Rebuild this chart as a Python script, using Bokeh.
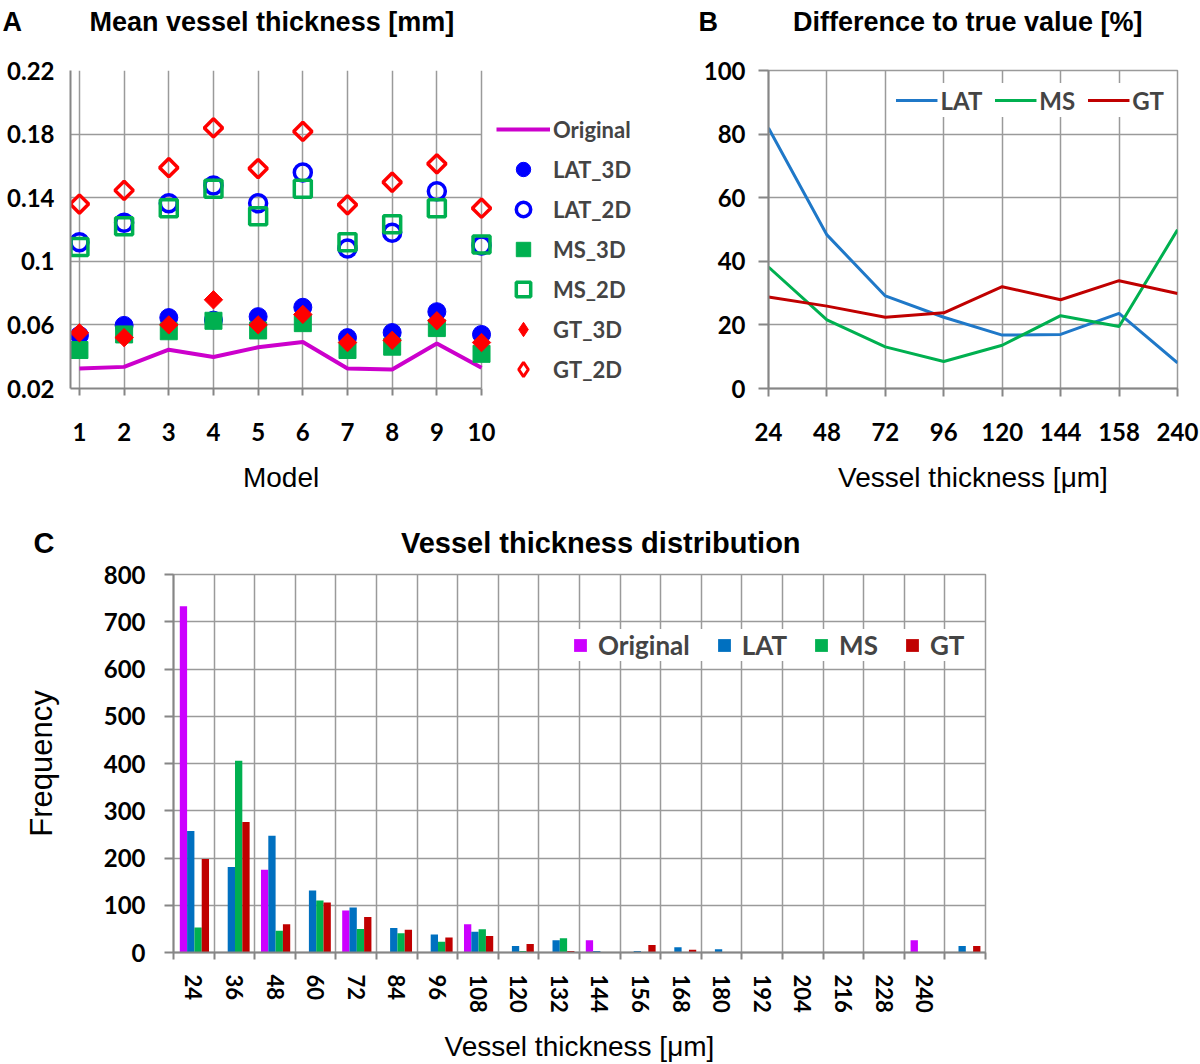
from bokeh.plotting import figure
from bokeh.models import Range1d, FixedTicker, Legend, LegendItem, ColumnDataSource, Title
from bokeh.layouts import column, row
from bokeh.transform import dodge
from bokeh.embed import file_html
from bokeh.resources import INLINE
import math

# ---------------- Panel A data ----------------
models = [1, 2, 3, 4, 5, 6, 7, 8, 9, 10]
original = [0.0326, 0.0336, 0.0444, 0.0398, 0.0459, 0.0493, 0.0326, 0.0320, 0.0483, 0.0330]
lat_3d = [0.0534, 0.0597, 0.0646, 0.0630, 0.0652, 0.0711, 0.0520, 0.0552, 0.0683, 0.0540]
lat_2d = [0.1120, 0.1243, 0.1365, 0.1477, 0.1365, 0.1558, 0.1080, 0.1180, 0.1440, 0.1100]
ms_3d = [0.0442, 0.0540, 0.0560, 0.0626, 0.0565, 0.0611, 0.0442, 0.0463, 0.0580, 0.0418]
ms_2d = [0.1090, 0.1220, 0.1334, 0.1457, 0.1283, 0.1457, 0.1120, 0.1233, 0.1334, 0.1106]
gt_3d = [0.0550, 0.0520, 0.0600, 0.0758, 0.0600, 0.0666, 0.0489, 0.0503, 0.0626, 0.0489]
gt_2d = [0.1360, 0.1446, 0.1589, 0.1839, 0.1583, 0.1817, 0.1355, 0.1497, 0.1613, 0.1334]
a_yticks = [0.02, 0.06, 0.10, 0.14, 0.18, 0.22]
a_ytick_labels = ["0.02", "0.06", "0.1", "0.14", "0.18", "0.22"]

# ---------------- Panel B data ----------------
b_cats = ["24", "48", "72", "96", "120", "144", "158", "240"]
b_lat = [81.9, 48.3, 29.1, 22.4, 16.8, 17.0, 23.6, 8.1]
b_ms = [38.2, 21.6, 13.1, 8.5, 13.6, 22.9, 19.5, 49.9]
b_gt = [28.8, 25.9, 22.4, 23.8, 32.0, 27.9, 33.9, 29.9]
b_yticks = [0, 20, 40, 60, 80, 100]

# ---------------- Panel C data ----------------
c_cats = ["24", "36", "48", "60", "72", "84", "96", "108", "120", "132", "144",
          "156", "168", "180", "192", "204", "216", "228", "240", ""]
c_original = [733, 0, 175, 0, 89, 0, 0, 60, 0, 0, 26, 0, 0, 0, 0, 0, 0, 0, 26, 0]
c_lat = [257, 181, 247, 131, 95, 52, 38, 44, 14, 26, 3, 3, 11, 7, 0, 0, 0, 0, 0, 14]
c_ms = [53, 406, 46, 110, 50, 41, 23, 49, 3, 30, 0, 0, 0, 0, 0, 0, 0, 0, 0, 0]
c_gt = [198, 276, 60, 106, 75, 48, 32, 35, 18, 3, 0, 16, 6, 0, 0, 0, 0, 0, 0, 14]
c_yticks = [0, 100, 200, 300, 400, 500, 600, 700, 800]

TICK_FONT = "Lato"
TITLE_FONT = "Liberation Sans"
GRID = "#9a9a9a"
AXIS = "#868686"
NB = "\u00a0"


def style_axes(p, tick_size="24px"):
    for ax in p.axis:
        ax.axis_line_color = AXIS
        ax.axis_line_width = 2
        ax.major_tick_line_color = AXIS
        ax.major_tick_line_width = 2
        ax.minor_tick_line_color = AXIS
        ax.minor_tick_line_width = 2
        ax.major_label_text_font = TICK_FONT
        ax.major_label_text_font_style = "bold"
        ax.major_label_text_font_size = tick_size
        ax.major_label_text_color = "black"
        ax.axis_label_text_font = TITLE_FONT
        ax.axis_label_text_font_style = "normal"
        ax.axis_label_text_font_size = "28px"
        ax.axis_label_text_color = "black"
    for g in p.grid:
        g.grid_line_color = GRID
        g.grid_line_width = 1.5


def panel_title(letter, text, offset, size, standoff, gap, extra_line=False):
    t = letter + NB * gap + text
    if extra_line:
        t += "\n" + NB
    return Title(text=t, align="left", offset=offset,
                 text_font=TITLE_FONT, text_font_style="bold", text_font_size=size,
                 text_color="black", standoff=standoff)


TOP = 67      # frame top of panels A and B
BOTTOM = 112  # bottom border of panels A and B

# ================= Panel A =================
# the frame is widened to the right so that the legend sits inside it;
# axis line and horizontal grid lines are bounded to the data region
pA = figure(width=680, height=500, x_range=Range1d(0.8, 14.23), y_range=Range1d(0.02, 0.22),
            output_backend="svg", toolbar_location=None,
            title=panel_title("A", "Mean vessel thickness [mm]", -68, "27px", 8, 9, True),
            min_border_left=70, min_border_right=10, min_border_top=TOP, min_border_bottom=BOTTOM)
pA.outline_line_color = None
srcA = ColumnDataSource(dict(x=models, original=original, lat_3d=lat_3d, lat_2d=lat_2d,
                             ms_3d=ms_3d, ms_2d=ms_2d, gt_3d=gt_3d, gt_2d=gt_2d))
rA0 = pA.line("x", "original", source=srcA, line_color="#cc00cc", line_width=4)
rA1 = pA.scatter("x", "lat_3d", source=srcA, marker="circle", size=18,
                 fill_color="#0000ff", line_color="#0000ff", line_width=1)
rA2 = pA.scatter("x", "lat_2d", source=srcA, marker="circle", size=17,
                 fill_color=None, line_color="#0000ff", line_width=3.5)
rA3 = pA.scatter("x", "ms_3d", source=srcA, marker="square", size=17,
                 fill_color="#00b050", line_color="#00b050", line_width=1)
rA4 = pA.scatter("x", "ms_2d", source=srcA, marker="square", size=17,
                 fill_color=None, line_color="#00b050", line_width=3.5)
rA5 = pA.scatter("x", "gt_3d", source=srcA, marker="square", size=13, angle=math.pi / 4,
                 fill_color="#ff0000", line_color="#ff0000", line_width=1)
rA6 = pA.scatter("x", "gt_2d", source=srcA, marker="square", size=13, angle=math.pi / 4,
                 fill_color=None, line_color="#ff0000", line_width=3.5)
# legend stand-ins drawn as diamonds (legend glyphs ignore rotation); nothing is plotted
proxy = ColumnDataSource(dict(x=models[:1], y=[math.nan]))
rA5_leg = pA.scatter("x", "y", source=proxy, marker="diamond", size=13,
                     fill_color="#ff0000", line_color="#ff0000", line_width=1)
rA6_leg = pA.scatter("x", "y", source=proxy, marker="diamond", size=13,
                     fill_color=None, line_color="#ff0000", line_width=3)
pA.xaxis.ticker = FixedTicker(ticks=models)
pA.xaxis.bounds = (0.8, 10)
pA.yaxis.ticker = FixedTicker(ticks=a_yticks)
pA.yaxis.major_label_overrides = {t: s for t, s in zip(a_yticks, a_ytick_labels)}
# trailing no-break spaces keep "Model" centred under the data region, not the wider frame
pA.xaxis.axis_label = "Model" + NB * 23
style_axes(pA)
pA.yaxis.major_tick_out = 0
pA.yaxis.major_tick_in = 0
pA.yaxis.major_label_standoff = 16
pA.xaxis.major_tick_out = 7
pA.xaxis.major_tick_in = 0
pA.xaxis.major_label_standoff = 27
pA.xaxis.axis_label_standoff = 18
pA.xgrid.ticker = FixedTicker(ticks=models)
pA.ygrid.ticker = FixedTicker(ticks=a_yticks)
pA.ygrid.cross_bounds = (0.8, 10)

itemsA = [
    LegendItem(label="Original", renderers=[rA0]),
    LegendItem(label="LAT_3D", renderers=[rA1]),
    LegendItem(label="LAT_2D", renderers=[rA2]),
    LegendItem(label="MS_3D", renderers=[rA3]),
    LegendItem(label="MS_2D", renderers=[rA4]),
    LegendItem(label="GT_3D", renderers=[rA5_leg]),
    LegendItem(label="GT_2D", renderers=[rA6_leg]),
]
legA = Legend(items=itemsA, location=(426, 1))
legA.padding = 0
legA.margin = 0
legA.spacing = 4
legA.glyph_width = 54
legA.glyph_height = 36
legA.label_height = 36
legA.label_standoff = 3
legA.border_line_color = None
legA.background_fill_alpha = 0
legA.label_text_font = TICK_FONT
legA.label_text_font_style = "bold"
legA.label_text_font_size = "22px"
pA.add_layout(legA, "center")

# ================= Panel B =================
b_idx = list(range(len(b_cats)))
pB = figure(width=520, height=500, x_range=Range1d(0, len(b_cats) - 1), y_range=Range1d(0, 100),
            output_backend="svg", toolbar_location=None,
            title=panel_title("B", "Difference to true value [%]", -70, "27px", 8, 10, True),
            min_border_left=88, min_border_right=23, min_border_top=TOP, min_border_bottom=BOTTOM)
pB.outline_line_color = GRID
pB.outline_line_width = 1.5
srcB = ColumnDataSource(dict(x=b_idx, lat=b_lat, ms=b_ms, gt=b_gt))
rB1 = pB.line("x", "lat", source=srcB, line_color="#1f78c8", line_width=3)
rB2 = pB.line("x", "ms", source=srcB, line_color="#00b050", line_width=3)
rB3 = pB.line("x", "gt", source=srcB, line_color="#c00000", line_width=3)
pB.xaxis.ticker = FixedTicker(ticks=b_idx)
pB.xaxis.major_label_overrides = {i: c for i, c in zip(b_idx, b_cats)}
pB.yaxis.ticker = FixedTicker(ticks=b_yticks)
pB.xaxis.axis_label = "Vessel thickness [\u03bcm]"
style_axes(pB)
pB.yaxis.major_tick_out = 10
pB.yaxis.major_tick_in = 0
pB.yaxis.major_label_standoff = 13
pB.xaxis.major_tick_out = 8
pB.xaxis.major_tick_in = 0
pB.xaxis.major_label_standoff = 26
pB.xaxis.axis_label_standoff = 18
pB.xgrid.ticker = FixedTicker(ticks=b_idx)
pB.ygrid.ticker = FixedTicker(ticks=b_yticks)

legB = Legend(items=[
    LegendItem(label="LAT", renderers=[rB1]),
    LegendItem(label="MS", renderers=[rB2]),
    LegendItem(label="GT", renderers=[rB3]),
], location="top_right", orientation="horizontal")
legB.padding = 8
legB.margin = 13
legB.spacing = 12
legB.glyph_width = 42
legB.glyph_height = 34
legB.label_height = 34
legB.label_standoff = 3
legB.border_line_color = None
legB.background_fill_color = "white"
legB.background_fill_alpha = 1
legB.label_text_font = TICK_FONT
legB.label_text_font_style = "bold"
legB.label_text_font_size = "24px"
pB.add_layout(legB, "center")

# ================= Panel C =================
n = len(c_cats)
c_centers = [i + 0.5 for i in range(n)]
c_bounds = list(range(n + 1))
pC = figure(width=1200, height=564, x_range=Range1d(0, n), y_range=Range1d(0, 800),
            output_backend="svg", toolbar_location=None,
            title=panel_title("C", "Vessel thickness distribution", -140, "29px", 31, 43),
            min_border_left=173, min_border_right=215, min_border_top=74, min_border_bottom=111)
pC.outline_line_color = GRID
pC.outline_line_width = 1.5
srcC = ColumnDataSource(dict(x=c_centers, original=c_original, lat=c_lat, ms=c_ms, gt=c_gt))
bw = 0.18
rC1 = pC.vbar(x=dodge("x", -0.255), top="original", width=bw, source=srcC,
              fill_color="#cc00ff", line_color=None)
rC2 = pC.vbar(x=dodge("x", -0.075), top="lat", width=bw, source=srcC,
              fill_color="#0070c0", line_color=None)
rC3 = pC.vbar(x=dodge("x", 0.105), top="ms", width=bw, source=srcC,
              fill_color="#00b050", line_color=None)
rC4 = pC.vbar(x=dodge("x", 0.285), top="gt", width=bw, source=srcC,
              fill_color="#c00000", line_color=None)
pC.xaxis.ticker = FixedTicker(ticks=c_centers, minor_ticks=c_bounds)
pC.xaxis.major_label_overrides = {c: s for c, s in zip(c_centers, c_cats)}
pC.xaxis.major_label_orientation = "vertical"
pC.yaxis.ticker = FixedTicker(ticks=c_yticks)
pC.xaxis.axis_label = "Vessel thickness [\u03bcm]"
pC.yaxis.axis_label = "Frequency"
style_axes(pC)
pC.xaxis.major_label_text_font_size = "22px"
pC.xaxis.major_tick_out = 0
pC.xaxis.major_tick_in = 0
pC.xaxis.minor_tick_out = 7
pC.xaxis.minor_tick_in = 0
pC.xaxis.major_label_standoff = 15
pC.xaxis.axis_label_standoff = 15
pC.yaxis.major_tick_out = 9
pC.yaxis.major_tick_in = 0
pC.yaxis.major_label_standoff = 19
pC.yaxis.axis_label_standoff = 42
pC.yaxis.axis_label_text_font_size = "31px"
pC.xgrid.ticker = FixedTicker(ticks=c_bounds)
pC.ygrid.ticker = FixedTicker(ticks=c_yticks)

legC = Legend(items=[
    LegendItem(label="Original", renderers=[rC1]),
    LegendItem(label="LAT", renderers=[rC2]),
    LegendItem(label="MS", renderers=[rC3]),
    LegendItem(label="GT", renderers=[rC4]),
], location=(399, 291), orientation="horizontal")
legC.padding = 15
legC.margin = 0
legC.spacing = 26
legC.glyph_width = 16
legC.glyph_height = 16
legC.label_height = 26
legC.label_standoff = 10
legC.border_line_color = None
legC.background_fill_color = "white"
legC.background_fill_alpha = 1
legC.label_text_font = TICK_FONT
legC.label_text_font_style = "bold"
legC.label_text_font_size = "26px"
pC.add_layout(legC, "center")

layout = column(row(pA, pB), pC)
open("out.html", "w").write(file_html(layout, INLINE))
